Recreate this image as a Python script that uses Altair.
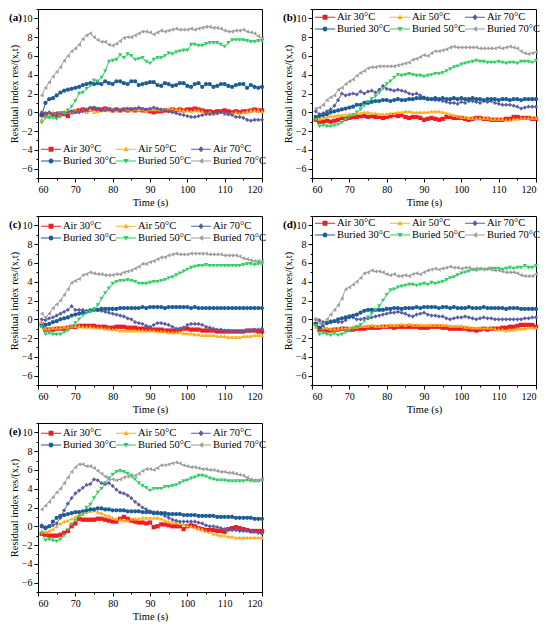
import altair as alt
import pandas as pd

TIME = list(range(61, 121))
SERIES = ["Air 30°C", "Air 50°C", "Air 70°C", "Buried 30°C", "Buried 50°C", "Buried 70°C"]
COLORS = ["#EE1C25", "#FFB11B", "#5B5EA6", "#1D5C96", "#33CC66", "#9E9E9E"]
SHAPES = ["square", "triangle-up", "diamond", "circle", "triangle-down", "triangle-left"]


def _f(v):
    return f"{v:.3f}"


def legend_paths():
    # legend symbol = short line with a marker in its middle (unit box scaled by sqrt(size)/2)
    c, m, end, h = 0.667, 0.4, 2.333, 0.083
    bar = f"M-1,{_f(-h)}H{_f(end)}V{_f(h)}H-1Z"
    sq = f"M{_f(c-m)},{_f(-m)}H{_f(c+m)}V{_f(m)}H{_f(c-m)}Z"
    up = f"M{_f(c)},-0.45L{_f(c+0.45)},0.35H{_f(c-0.45)}Z"
    dia = f"M{_f(c)},-0.5L{_f(c+0.45)},0L{_f(c)},0.5L{_f(c-0.45)},0Z"
    cir = f"M{_f(c-m)},0A{m},{m} 0 1,1 {_f(c+m)},0A{m},{m} 0 1,1 {_f(c-m)},0Z"
    dn = f"M{_f(c)},0.45L{_f(c-0.45)},-0.35H{_f(c+0.45)}Z"
    lf = f"M{_f(c-0.45)},0L{_f(c+0.35)},-0.45V0.45Z"
    return [bar + s for s in (sq, up, dia, cir, dn, lf)]


LEGEND_SHAPES = legend_paths()
X_TICKS = [60, 70, 80, 90, 100, 110, 120]
X_MINOR = [65, 75, 85, 95, 105, 115]
Y_TICKS = [-6, -4, -2, 0, 2, 4, 6, 8, 10]
Y_MINOR = [-7, -5, -3, -1, 1, 3, 5, 7, 9, 11]

# ---------------- panel (a) ----------------
a_air30 = [-0.3,-0.2,-0.3,-0.2,-0.3,-0.1,-0.2,-0.4,0.0,0.1, 0.2,0.3,0.2,0.3,0.4,0.3,0.3,0.4,0.3,0.2,
           0.3,0.2,0.3,0.2,0.3,0.2,0.3,0.2,0.2,0.1, 0.0,0.1,0.1,0.2,0.2,0.3,0.2,0.3,0.2,0.3,
           0.3,0.4,0.3,0.2,0.1,0.1,0.0,0.1,0.1,0.2, 0.1,0.0,0.1,0.0,0.1,0.1,0.2,0.3,0.2,0.2]
a_air50 = [-0.7,-0.4,-0.2,0.0,-0.1,0.0,0.1,0.1,0.1,0.2, 0.1,0.2,0.0,0.3,0.0,0.1,0.2,0.3,0.2,0.3,
           0.2,0.3,0.4,0.3,0.2,0.3,0.3,0.3,0.2,0.3, 0.3,0.3,0.3,0.4,0.4,0.4,0.3,0.3,0.2,0.2,
           0.1,0.2,0.2,0.1,-0.1,0.0,-0.2,-0.1,0.0,-0.2, -0.2,-0.1,0.0,-0.1,0.0,0.1,0.2,0.2,0.2,0.1]
a_air70 = [0.0,-0.1,0.0,-0.2,-0.1,-0.2,-0.1,0.0,0.1,0.0, 0.0,0.1,0.3,0.5,0.5,0.4,0.2,0.2,0.3,0.2,
           0.3,0.2,0.3,0.4,0.3,0.4,0.5,0.4,0.3,0.4, 0.5,0.4,0.3,0.2,0.1,0.0,-0.1,-0.2,-0.3,-0.4,
           -0.5,-0.5,-0.4,-0.3,-0.2,-0.2,-0.1,-0.1,0.0,-0.1, -0.2,-0.3,-0.5,-0.5,-0.6,-0.8,-0.9,-0.8,-0.8,-0.8]
a_bur30 = [-0.3,1.0,1.4,1.5,1.8,2.1,2.3,2.4,2.5,2.6, 2.7,2.9,3.0,3.1,3.0,3.1,3.0,3.3,3.1,3.0,
           3.3,3.3,3.1,3.0,3.3,3.3,2.9,3.0,3.1,3.2, 3.2,2.9,2.8,3.1,3.0,2.8,2.9,3.1,3.1,2.8,
           2.7,3.0,3.1,2.7,3.0,3.0,2.7,2.8,3.0,3.0, 2.8,2.7,2.9,3.0,3.0,2.6,2.9,2.7,2.6,2.7]
a_bur50 = [-1.1,-0.6,-0.6,-0.6,-0.7,-0.5,-0.2,0.2,0.6,1.2, 2.0,2.1,2.5,2.8,3.4,3.3,3.7,4.4,5.4,5.5,
           5.6,6.1,5.8,6.2,6.0,5.6,5.7,5.8,5.4,5.2, 5.6,5.8,5.8,6.0,6.3,6.2,6.4,6.5,6.6,6.6,
           7.2,7.2,7.1,7.1,7.3,7.4,7.4,7.4,7.2,7.0, 7.4,7.7,7.7,7.7,7.7,7.6,7.5,7.5,7.6,7.6]
a_bur70 = [1.8,2.6,3.2,3.8,4.3,4.8,5.5,6.0,6.5,6.8, 7.2,7.8,8.2,8.4,8.0,7.7,7.5,7.5,7.2,7.1,
           7.3,7.6,7.9,8.0,8.0,8.2,8.4,8.6,8.6,8.5, 8.3,8.5,8.7,8.6,8.7,8.8,8.9,8.8,8.8,8.8,
           8.9,8.8,8.9,9.0,9.1,9.1,9.0,9.0,8.9,8.7, 8.6,8.6,8.7,8.7,8.8,8.6,8.5,8.4,8.1,7.9]

# ---------------- panel (b) ----------------
b_air30 = [-0.8,-1.0,-1.0,-0.9,-1.0,-0.9,-0.8,-0.6,-0.7,-0.6, -0.5,-0.5,-0.4,-0.4,-0.5,-0.4,-0.5,-0.5,-0.6,-0.5,
           -0.4,-0.3,-0.4,-0.3,-0.5,-0.6,-0.5,-0.5,-0.6,-0.8, -0.7,-0.6,-0.7,-0.8,-0.7,-0.5,-0.5,-0.6,-0.6,-0.6,
           -0.7,-0.8,-0.7,-0.6,-0.6,-0.7,-0.7,-0.8,-0.8,-0.8, -0.8,-0.7,-0.7,-0.5,-0.5,-0.6,-0.6,-0.6,-0.7,-0.7]
b_air50 = [-0.5,-0.7,-0.6,-0.5,-0.4,-0.4,-0.3,-0.3,-0.3,-0.2, -0.2,-0.1,-0.1,0.0,0.0,-0.1,-0.1,-0.2,-0.2,-0.2,
           -0.1,-0.1,0.0,0.0,0.1,0.1,0.0,0.0,0.0,0.0, 0.0,0.1,0.1,0.1,0.0,-0.1,-0.2,-0.3,-0.4,-0.5,
           -0.5,-0.6,-0.6,-0.6,-0.6,-0.6,-0.6,-0.7,-0.7,-0.7, -0.7,-0.8,-0.8,-0.7,-0.7,-0.6,-0.6,-0.6,-0.6,-0.6]
b_air70 = [0.1,-0.2,-0.1,0.1,0.3,0.7,1.3,2.0,1.8,1.9, 2.0,1.9,2.2,2.0,2.2,2.3,2.1,2.4,2.8,2.5,
           2.4,2.3,2.4,2.3,2.2,2.0,1.9,2.0,1.8,1.6, 1.5,1.4,1.3,1.3,1.2,1.1,1.0,1.0,0.9,1.1,
           1.0,1.2,1.2,1.1,1.0,1.2,1.1,1.2,1.0,0.9, 0.8,0.8,0.8,0.7,0.6,0.4,0.5,0.6,0.6,0.6]
b_bur30 = [-0.5,-0.4,-0.3,-0.2,0.0,0.1,0.2,0.3,0.4,0.5, 0.6,0.8,0.8,1.0,1.0,1.1,1.2,1.2,1.3,1.3,
           1.2,1.3,1.4,1.3,1.3,1.4,1.4,1.5,1.5,1.5, 1.4,1.4,1.5,1.4,1.5,1.4,1.4,1.5,1.4,1.5,
           1.4,1.4,1.5,1.4,1.4,1.3,1.4,1.4,1.4,1.3, 1.4,1.4,1.3,1.4,1.4,1.3,1.4,1.4,1.4,1.4]
b_bur50 = [-0.8,-1.5,-1.4,-1.5,-1.5,-1.4,-1.3,-1.1,-0.8,-0.5, -0.3,0.0,0.3,0.7,1.1,1.4,1.7,2.1,2.5,3.0,
           3.3,3.7,4.0,3.9,4.0,4.1,4.0,3.9,3.9,3.8, 3.9,4.0,4.1,4.1,4.2,4.4,4.6,4.8,4.9,5.1,
           5.2,5.3,5.4,5.5,5.4,5.4,5.3,5.3,5.3,5.4, 5.3,5.2,5.3,5.3,5.2,5.4,5.4,5.4,5.3,5.5]
b_bur70 = [0.4,0.5,0.8,1.3,1.6,1.8,2.4,2.6,3.0,3.3, 3.5,3.9,4.2,4.4,4.7,4.8,4.8,4.9,4.9,4.9,
           4.9,4.9,5.0,5.1,5.2,5.3,5.6,5.7,5.9,6.1, 6.0,6.3,6.5,6.5,6.6,6.7,6.9,7.0,6.9,6.9,
           6.9,6.9,6.9,6.9,6.8,6.8,6.8,6.8,6.8,6.9, 6.8,6.9,7.0,6.9,6.8,6.5,6.3,6.2,6.3,6.4]

# ---------------- panel (c) ----------------
c_air30 = [-0.5,-1.1,-1.1,-1.1,-1.0,-1.0,-1.0,-0.9,-0.8,-0.8, -0.7,-0.7,-0.7,-0.7,-0.7,-0.8,-0.8,-0.8,-0.9,-0.9,
           -0.8,-0.8,-0.8,-0.9,-0.9,-0.9,-1.0,-1.0,-1.0,-1.0, -1.1,-1.1,-1.1,-1.2,-1.2,-1.2,-1.2,-1.1,-1.0,-1.0,
           -1.1,-1.1,-1.1,-1.2,-1.2,-1.2,-1.2,-1.3,-1.3,-1.3, -1.3,-1.3,-1.3,-1.3,-1.3,-1.2,-1.2,-1.2,-1.3,-1.3]
c_air50 = [-0.3,-1.0,-1.0,-0.9,-0.9,-0.9,-0.8,-0.8,-0.7,-0.7, -0.7,-0.8,-0.8,-0.8,-0.9,-0.9,-0.9,-1.0,-1.0,-1.1,
           -1.1,-1.2,-1.2,-1.2,-1.2,-1.2,-1.2,-1.2,-1.2,-1.2, -1.2,-1.3,-1.3,-1.3,-1.4,-1.4,-1.4,-1.4,-1.5,-1.5,
           -1.5,-1.6,-1.6,-1.7,-1.7,-1.7,-1.7,-1.8,-1.8,-1.8, -1.9,-1.9,-1.9,-1.9,-1.8,-1.8,-1.8,-1.7,-1.7,-1.7]
c_air70 = [0.0,-0.1,0.1,0.2,0.4,0.6,0.8,1.0,1.4,1.0, 1.0,1.0,0.9,1.0,1.1,1.0,0.9,0.8,0.7,0.6,
           0.5,0.4,0.3,0.1,0.0,-0.3,-0.4,-0.5,-0.7,-0.8, -0.6,-0.4,-0.4,-0.5,-0.6,-0.8,-1.0,-1.0,-0.9,-0.6,
           -0.5,-0.5,-0.5,-0.6,-0.8,-0.9,-1.0,-1.1,-1.1,-1.2, -1.2,-1.3,-1.3,-1.3,-1.3,-1.2,-1.2,-1.1,-1.1,-1.0]
c_bur30 = [-0.7,-0.6,-0.5,-0.3,-0.2,0.0,0.1,0.2,0.4,0.5, 0.6,0.7,0.8,0.9,1.0,1.0,1.1,1.1,1.1,1.1,
           1.1,1.2,1.2,1.2,1.2,1.2,1.2,1.3,1.2,1.3, 1.3,1.3,1.3,1.2,1.3,1.3,1.3,1.3,1.3,1.3,
           1.2,1.3,1.2,1.2,1.2,1.2,1.2,1.2,1.2,1.2, 1.2,1.2,1.2,1.2,1.2,1.2,1.2,1.2,1.2,1.2]
c_bur50 = [-0.8,-1.6,-1.5,-1.6,-1.6,-1.6,-1.4,-1.2,-0.8,-0.4, 0.0,0.4,0.7,0.8,1.0,1.5,2.2,2.8,3.3,3.8,
           4.0,4.1,4.1,4.2,4.1,4.0,3.8,3.8,3.8,3.9, 4.0,4.0,4.1,4.2,4.4,4.5,4.7,4.9,5.1,5.3,
           5.5,5.6,5.7,5.7,5.8,5.7,5.7,5.7,5.7,5.7, 5.7,5.7,5.7,5.7,5.8,5.9,5.9,5.8,5.9,5.9]
c_bur70 = [0.6,0.2,0.6,1.2,1.6,2.0,2.6,3.2,3.9,4.1, 4.3,4.7,4.8,5.0,4.9,4.8,4.8,4.7,4.7,4.7,
           4.8,4.8,5.0,5.1,5.2,5.4,5.6,5.9,5.9,6.1, 6.2,6.4,6.6,6.6,6.8,6.9,7.0,6.9,6.9,6.9,
           7.0,7.0,7.0,7.0,7.0,6.9,6.9,6.9,6.9,6.8, 6.8,6.8,6.8,6.7,6.5,6.4,6.3,6.2,6.2,6.2]

# ---------------- panel (d) ----------------
d_air30 = [-0.5,-1.1,-1.1,-1.2,-1.2,-1.1,-1.1,-1.0,-1.0,-1.1, -1.1,-1.0,-1.0,-1.0,-0.9,-0.9,-0.9,-0.9,-0.8,-0.8,
           -0.8,-0.9,-0.8,-0.8,-0.8,-0.8,-0.8,-0.8,-0.9,-0.9, -0.9,-0.8,-0.8,-0.8,-0.9,-0.9,-1.0,-1.0,-1.0,-1.0,
           -1.0,-1.1,-1.1,-1.2,-1.1,-1.0,-1.1,-1.0,-1.0,-1.0, -0.9,-0.9,-0.8,-0.8,-0.7,-0.6,-0.6,-0.6,-0.6,-0.8]
d_air50 = [-0.8,-0.9,-0.9,-0.9,-1.0,-1.0,-1.0,-0.9,-0.9,-0.9, -0.8,-0.8,-0.7,-0.7,-0.7,-0.6,-0.7,-0.7,-0.7,-0.7,
           -0.6,-0.6,-0.6,-0.5,-0.6,-0.5,-0.6,-0.6,-0.6,-0.6, -0.6,-0.6,-0.6,-0.6,-0.6,-0.6,-0.7,-0.7,-0.7,-0.7,
           -0.8,-0.8,-0.9,-0.9,-0.9,-0.9,-0.9,-0.9,-1.0,-1.1, -1.1,-1.2,-1.1,-1.1,-1.0,-1.0,-1.0,-0.9,-0.9,-0.9]
d_air70 = [0.0,-0.1,-0.3,-0.4,-0.2,-0.2,-0.3,-0.3,-0.1,0.2, 0.2,0.0,0.0,0.1,0.1,0.2,0.3,0.4,0.5,0.6,
           0.7,0.7,0.8,0.7,0.6,0.4,0.3,0.5,0.6,0.7, 0.5,0.4,0.4,0.3,0.3,0.1,0.0,0.1,0.2,0.2,
           0.3,0.2,0.1,0.0,0.1,0.2,0.1,0.1,0.0,0.0, 0.0,0.0,0.0,0.0,0.0,0.0,0.1,0.1,0.2,0.2]
d_bur30 = [-0.5,-0.9,-0.6,-0.4,-0.3,-0.2,0.0,0.1,0.2,0.3, 0.4,0.5,0.7,0.9,1.0,1.0,1.0,1.0,1.0,1.1,
           1.1,1.2,1.2,1.1,1.2,1.2,1.2,1.3,1.2,1.3, 1.3,1.3,1.3,1.2,1.3,1.3,1.2,1.3,1.2,1.2,
           1.2,1.3,1.2,1.2,1.2,1.3,1.2,1.2,1.2,1.2, 1.2,1.1,1.2,1.2,1.2,1.1,1.1,1.1,1.1,1.1]
d_bur50 = [-0.7,-1.6,-1.5,-1.6,-1.7,-1.5,-1.7,-1.6,-1.4,-1.2, -1.0,-0.8,-0.6,-0.2,0.2,0.6,1.0,1.4,2.0,2.6,
           3.1,3.2,3.4,3.5,3.6,3.7,3.7,3.6,3.7,3.8, 3.7,3.9,3.8,3.9,4.0,4.2,4.4,4.5,4.7,4.9,
           5.0,5.1,5.3,5.2,5.3,5.3,5.3,5.4,5.4,5.4, 5.3,5.4,5.5,5.4,5.5,5.5,5.7,5.5,5.5,5.7]
d_bur70 = [0.0,-0.4,-0.5,0.0,0.5,1.0,1.5,2.2,3.2,3.4, 3.7,4.0,4.4,4.9,5.0,5.2,5.1,5.1,5.0,4.8,
           4.7,4.8,4.6,4.6,4.7,4.6,4.8,4.9,4.8,5.0, 5.2,5.3,5.4,5.3,5.4,5.5,5.6,5.5,5.5,5.4,
           5.5,5.5,5.3,5.4,5.4,5.3,5.4,5.3,5.2,5.2, 5.1,5.0,5.0,5.0,4.9,4.7,4.6,4.6,4.6,4.8]

# ---------------- panel (e) ----------------
e_air30 = [-0.8,-0.9,-1.0,-1.0,-1.0,-0.9,-0.7,-0.5,0.0,0.3, 0.8,0.7,0.7,0.7,0.7,0.8,0.8,0.7,0.6,0.5,
           0.5,0.8,1.0,0.8,0.6,0.5,0.4,0.4,0.3,0.4, -0.1,0.0,0.2,0.2,0.1,0.0,0.0,0.0,-0.3,0.0,
           0.1,0.0,-0.2,-0.3,-0.4,-0.4,-0.4,-0.5,-0.5,-0.6, -0.3,-0.2,-0.1,-0.2,-0.3,-0.4,-0.5,-0.5,-0.5,-0.5]
e_air50 = [-0.5,-0.6,-0.5,-0.3,0.0,0.3,0.5,0.6,0.8,1.0, 1.2,1.3,1.5,1.6,1.7,1.5,1.4,1.2,1.1,0.9,
           0.8,0.7,0.6,0.6,0.8,0.8,0.8,0.9,0.9,0.9, 0.9,0.9,0.8,0.6,0.5,0.4,0.4,0.3,0.2,0.1,
           0.0,-0.1,-0.2,-0.3,-0.5,-0.6,-0.8,-0.9,-1.0,-1.0, -1.1,-1.1,-1.2,-1.2,-1.2,-1.2,-1.2,-1.2,-1.2,-1.2]
e_air70 = [0.1,-0.1,0.0,0.1,0.3,0.9,1.7,2.4,3.0,3.5, 3.8,4.1,4.4,4.5,5.0,4.9,4.6,4.5,4.6,4.3,
           3.9,3.6,3.5,3.3,3.0,2.6,2.3,2.0,1.8,1.6, 1.5,1.5,1.3,1.1,0.9,0.7,0.6,0.5,0.5,0.5,
           0.5,0.5,0.4,0.3,0.1,0.0,0.0,-0.1,-0.2,-0.3, -0.4,-0.4,-0.4,-0.5,-0.5,-0.5,-0.6,-0.6,-0.7,-0.8]
e_bur30 = [0.0,-0.2,0.0,0.5,0.9,1.1,1.2,1.3,1.4,1.5, 1.5,1.6,1.7,1.8,1.8,1.9,1.9,1.8,1.8,1.7,
           1.7,1.7,1.7,1.6,1.6,1.6,1.6,1.5,1.5,1.5, 1.4,1.4,1.4,1.4,1.3,1.3,1.3,1.3,1.2,1.2,
           1.2,1.2,1.1,1.1,1.1,1.1,1.1,1.0,1.0,1.0, 1.0,1.0,0.9,0.9,0.9,0.9,0.9,0.8,0.8,0.8]
e_bur50 = [-0.8,-1.5,-1.4,-1.5,-1.6,-1.4,-1.0,-0.4,0.2,0.6, 1.0,1.3,2.0,2.3,3.0,3.6,4.0,4.6,5.1,5.5,
           5.8,5.9,5.8,5.6,5.4,5.0,4.6,4.3,4.1,3.8, 4.0,4.0,4.0,4.2,4.2,4.3,4.4,4.6,4.8,4.9,
           5.1,5.2,5.4,5.4,5.3,5.1,5.0,4.9,4.9,4.9, 4.8,4.8,4.8,4.8,4.8,4.9,4.8,4.8,4.8,4.9]
e_bur70 = [1.8,2.2,2.6,3.1,3.6,4.0,4.6,5.2,5.8,6.3, 6.6,6.6,6.4,6.4,6.2,5.9,5.6,5.3,5.0,5.0,
           4.9,5.0,5.2,5.3,5.3,5.4,5.6,5.9,6.1,6.1, 6.0,6.2,6.5,6.5,6.6,6.7,6.8,6.7,6.5,6.4,
           6.3,6.3,6.2,6.1,6.1,6.0,6.0,5.9,5.8,5.8, 5.7,5.7,5.6,5.5,5.4,5.2,5.0,4.9,4.9,5.0]

PANELS = {
    "(a)": [a_air30, a_air50, a_air70, a_bur30, a_bur50, a_bur70],
    "(b)": [b_air30, b_air50, b_air70, b_bur30, b_bur50, b_bur70],
    "(c)": [c_air30, c_air50, c_air70, c_bur30, c_bur50, c_bur70],
    "(d)": [d_air30, d_air50, d_air70, d_bur30, d_bur50, d_bur70],
    "(e)": [e_air30, e_air50, e_air70, e_bur30, e_bur50, e_bur70],
}
LEGEND_Y = {"(a)": 134, "(b)": 2, "(c)": 4, "(d)": 1, "(e)": 4}

FONT = "Liberation Serif"
W, H = 224, 169


def panel(label):
    rows = []
    for name, vals in zip(SERIES, PANELS[label]):
        for t, v in zip(TIME, vals):
            rows.append({"t": t, "v": v, "s": name})
    df = pd.DataFrame(rows)
    base = alt.Chart(df)
    xs = alt.Scale(domain=[60, 120], nice=False)
    ys = alt.Scale(domain=[-7, 11], nice=False)

    x_main = alt.X("t:Q", scale=xs, axis=alt.Axis(values=X_TICKS, title="Time (s)", orient="bottom",
                                                   tickSize=4, labelPadding=2, titlePadding=3,
                                                   titleFontWeight="normal"))
    y_main = alt.Y("v:Q", scale=ys, axis=alt.Axis(values=Y_TICKS, title="Residual index  res/(x,t)",
                                                   orient="left", tickSize=4, labelPadding=2, titlePadding=2,
                                                   titleFontWeight="normal"))
    lines = base.mark_line(strokeWidth=1).encode(
        x=x_main, y=y_main,
        color=alt.Color("s:N", scale=alt.Scale(domain=SERIES, range=COLORS), legend=None),
        order="t:Q",
    )
    points = base.mark_point(filled=True, size=18, opacity=1).encode(
        x=alt.X("t:Q", scale=xs, axis=None),
        y=alt.Y("v:Q", scale=ys, axis=None),
        color=alt.Color("s:N", scale=alt.Scale(domain=SERIES, range=COLORS), legend=None),
        shape=alt.Shape("s:N", scale=alt.Scale(domain=SERIES, range=SHAPES), legend=None),
    )
    leg_kw = dict(title=None, orient="none", legendX=3, legendY=LEGEND_Y[label], columns=3,
                  direction="horizontal", symbolSize=144, symbolStrokeWidth=0,
                  labelFont=FONT, labelFontSize=10.5, labelColor="black", labelOffset=10,
                  rowPadding=0, columnPadding=0, symbolOpacity=1)
    legend_layer = base.transform_filter("datum.t < 0").mark_point(filled=True, opacity=1).encode(
        x=alt.X("t:Q", scale=xs, axis=None),
        y=alt.Y("v:Q", scale=ys, axis=None),
        color=alt.Color("s:N", scale=alt.Scale(domain=SERIES, range=COLORS), legend=alt.Legend(**leg_kw)),
        shape=alt.Shape("s:N", scale=alt.Scale(domain=SERIES, range=LEGEND_SHAPES), legend=alt.Legend(**leg_kw)),
    )
    minor = base.transform_filter("datum.t < 0").mark_point().encode(
        x=alt.X("t:Q", scale=xs, axis=alt.Axis(values=X_MINOR, labels=False, title=None, domain=False,
                                               tickSize=2, orient="bottom")),
        y=alt.Y("v:Q", scale=ys, axis=alt.Axis(values=Y_MINOR, labels=False, title=None, domain=False,
                                               tickSize=2, orient="left")),
    )
    tag = alt.Chart(pd.DataFrame({"lab": [label]})).mark_text(
        font=FONT, fontSize=11, fontWeight="bold", align="left", baseline="middle", color="black"
    ).encode(text="lab:N", x=alt.value(-29), y=alt.value(9))
    return alt.layer(lines, points, legend_layer, minor, tag).resolve_scale(
        color="independent", shape="independent"
    ).resolve_axis(x="independent", y="independent").properties(width=W, height=H)


row1 = alt.hconcat(panel("(a)"), panel("(b)"), spacing=15)
row2 = alt.hconcat(panel("(c)"), panel("(d)"), spacing=15)
chart = alt.vconcat(row1, row2, panel("(e)"), spacing=7).properties(
    padding={"left": 0, "top": 0, "right": 0, "bottom": 0}
).configure_view(stroke="black", strokeWidth=1).configure_axis(
    labelFont=FONT, titleFont=FONT, labelFontSize=10, titleFontSize=10.5, titleFontWeight="normal",
    labelColor="black", titleColor="black", domainColor="black", tickColor="black", grid=False,
)

chart.save("out.html", embed_options={"renderer": "svg", "actions": False})
